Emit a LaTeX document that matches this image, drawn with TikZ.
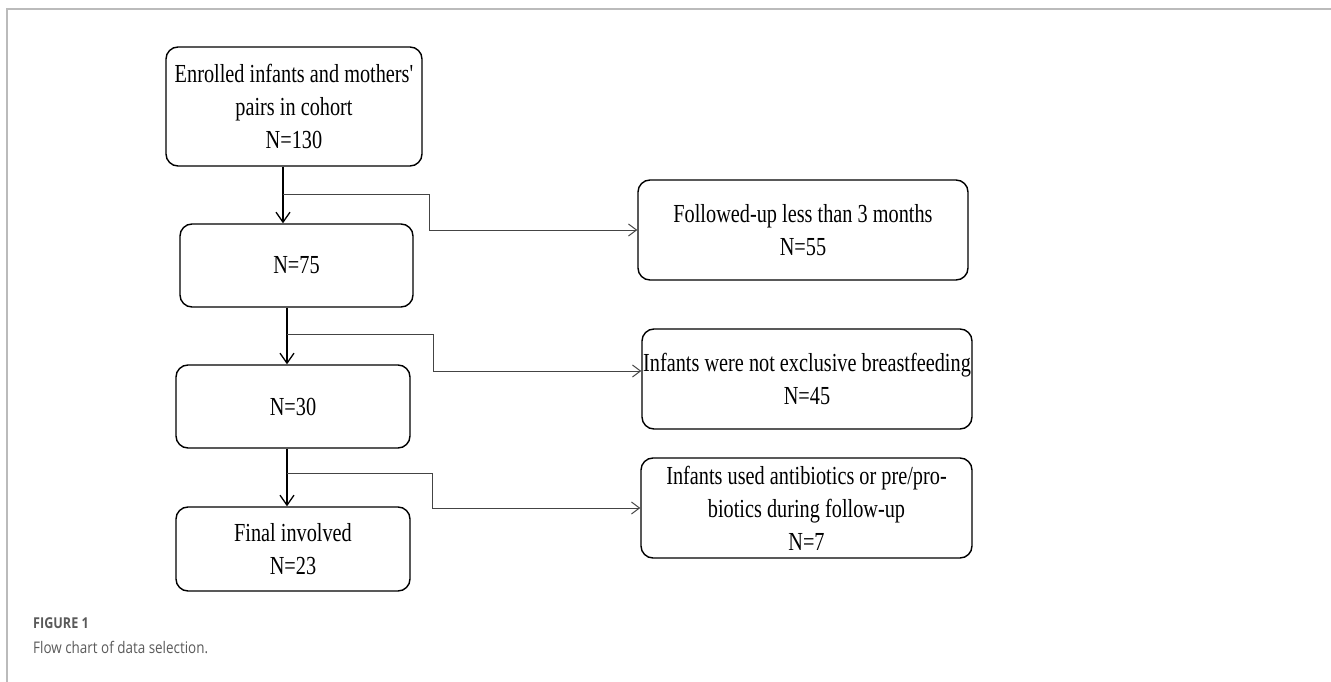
\documentclass[tikz,border=0pt]{standalone}
\usepackage{fontspec}
\usetikzlibrary{arrows.meta}
\newfontfamily\boxfont[FakeStretch=0.78]{Liberation Serif}
\newfontfamily\capfont[FakeStretch=0.84]{Open Sans}
\definecolor{framegray}{HTML}{BBBBBB}
\definecolor{capgray}{HTML}{5A5A5A}
\definecolor{linkgray}{HTML}{444444}
\tikzset{
  stage/.style={draw, line width=1.4pt, rounded corners=12pt, align=center,
    inner sep=0pt, font=\boxfont\fontsize{26}{33}\selectfont},
  down/.style={-{Straight Barb[length=10pt,width=14pt]}, line width=1.3pt},
  side/.style={-{Straight Barb[length=8pt,width=12pt]}, linkgray, line width=1pt},
}
\begin{document}
\begin{tikzpicture}[x=1pt,y=-1pt]
    \useasboundingbox (0,0) rectangle (1331,682);
    \draw[framegray, line width=1.2pt] (7,682) -- (7,9) -- (1331,9);

% main column
    \node[stage, minimum width=256pt, minimum height=119pt] (enrolled) at (294,106.5)
      {Enrolled infants and mothers'\\pairs in cohort\\N=130};
    \node[stage, minimum width=233pt, minimum height=83pt] (n75) at (296.5,265.5) {N=75};
    \node[stage, minimum width=234pt, minimum height=83pt] (n30) at (293,406.5) {N=30};
    \node[stage, minimum width=234pt, minimum height=84pt] (final) at (293,549)
      {Final involved\\N=23};

% excluded
    \node[stage, minimum width=330pt, minimum height=100pt] (follow) at (803,230)
      {Followed-up less than 3 months\\N=55};
    \node[stage, minimum width=330pt, minimum height=100pt] (excl) at (807,379)
      {Infants were not exclusive breastfeeding\\N=45};
    \node[stage, minimum width=331pt, minimum height=100pt] (anti) at (806.5,508)
      {Infants used antibiotics or pre/pro-\\biotics during follow-up\\N=7};

% arrows
    \coordinate (j1) at (283,194);
    \coordinate (k1) at (429,194);
    \coordinate (j2) at (287,334);
    \coordinate (k2) at (433,334);
    \coordinate (j3) at (287,473);
    \coordinate (k3) at (432,473);

    \draw[down] (j1 |- enrolled.south) -- (j1 |- n75.north);
    \draw[down] (j2 |- n75.south) -- (j2 |- n30.north);
    \draw[down] (j3 |- n30.south) -- (j3 |- final.north);

    \draw[side] (j1) -- (k1) |- (follow.west);
    \draw[side] (j2) -- (k2) |- ([yshift=8pt]excl.west);
    \draw[side] (j3) -- (k3) |- (anti.west);

% caption
    \node[anchor=west, inner sep=0pt, capgray, font=\capfont\bfseries\fontsize{15}{18}\selectfont]
      (figno) at (33,623) {FIGURE 1};
    \node[anchor=west, inner sep=0pt, capgray, font=\capfont\fontsize{16}{19}\selectfont]
      (figcap) at (33,647) {Flow chart of data selection.};
\end{tikzpicture}
\end{document}
